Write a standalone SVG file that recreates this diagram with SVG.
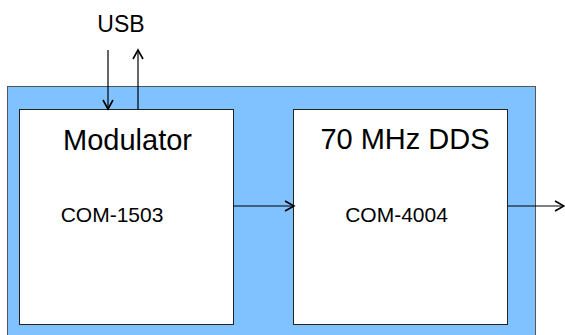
<svg xmlns="http://www.w3.org/2000/svg" width="565" height="335" viewBox="0 0 565 335">
<defs>
<marker id="ah" markerWidth="12" markerHeight="12" refX="10" refY="6" orient="auto" markerUnits="userSpaceOnUse">
<path d="M1,1 L10,6 L1,11" fill="none" stroke="#000" stroke-width="1.6"/>
</marker>
</defs>
<style>
text{font-family:"Liberation Sans",Arial,sans-serif;fill:#000;text-anchor:middle}
.box{fill:#fff;stroke:#222;stroke-width:1}
.conn{stroke:#000;stroke-width:1.2;fill:none;marker-end:url(#ah)}
</style>
<rect x="0" y="0" width="565" height="335" fill="#fff"/>
<g id="system">
<rect x="7.5" y="86.5" width="528" height="260" fill="#80C1FF" stroke="#555" stroke-width="1"/>
</g>
<g id="usb">
<text x="121" y="32" font-size="23">USB</text>
</g>
<g id="modulator">
<rect class="box" x="19.5" y="109.5" width="214" height="215"/>
<text x="127.5" y="150" font-size="29">Modulator</text>
<text x="112" y="222" font-size="21">COM-1503</text>
</g>
<g id="dds">
<rect class="box" x="293.5" y="109.5" width="214" height="215"/>
<text x="405" y="149" font-size="29">70 MHz DDS</text>
<text x="396.5" y="222" font-size="21">COM-4004</text>
</g>
<g id="connectors">
<line class="conn" x1="108" y1="50" x2="108" y2="109"/>
<line class="conn" x1="138" y1="109" x2="138" y2="50"/>
<line class="conn" x1="233.5" y1="206" x2="294" y2="206"/>
<line class="conn" x1="507.5" y1="206" x2="564" y2="206"/>
</g>
</svg>
